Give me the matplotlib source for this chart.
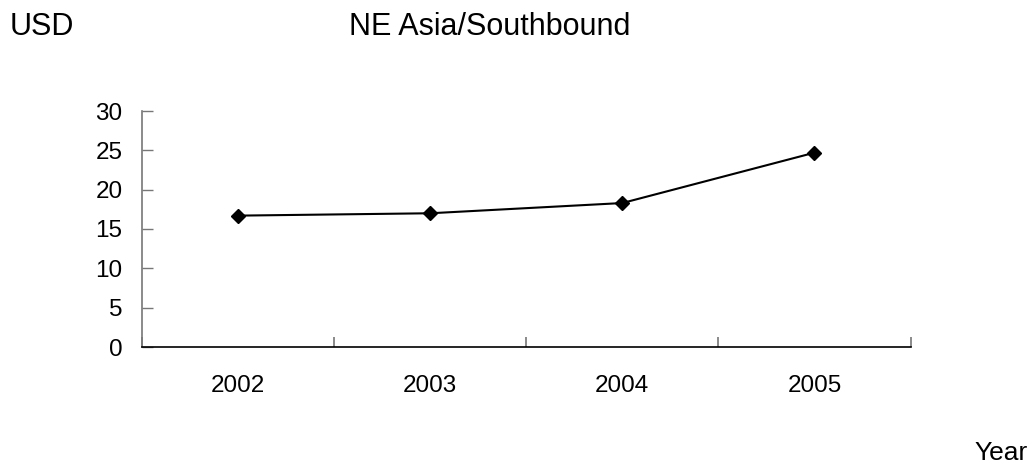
import matplotlib
matplotlib.use('Agg')
import matplotlib.pyplot as plt

# данные
years = ['2002', '2003', '2004', '2005']
usd = [16.7, 17.0, 18.3, 24.7]
yticks = [0, 5, 10, 15, 20, 25, 30]

plt.rcParams['font.family'] = ['Liberation Sans', 'DejaVu Sans']
fs = 17.5

fig = plt.figure(figsize=(10.35, 4.67), dpi=100)
ax = fig.add_axes([142/1035, 1 - 347/467, (910.5 - 142)/1035, (347 - 111)/467])

xs = [i + 0.5 for i in range(len(years))]
ax.plot(xs, usd, color='black', lw=1.5, marker='D', ms=7.5, mfc='black', mec='black')

ax.set_xlim(0, len(years))
ax.set_ylim(0, 30)
ax.set_xticks(range(len(years) + 1))
ax.set_xticklabels([])
ax.set_xticks(xs, minor=True)
ax.set_xticklabels(years, minor=True)
ax.set_yticks(yticks)
ax.set_yticklabels([str(v) for v in yticks])

ax.tick_params(axis='x', which='major', direction='in', length=7, width=1.2, color='#777777')
ax.tick_params(axis='x', which='minor', length=0, pad=20, labelsize=fs)
ax.tick_params(axis='y', direction='in', length=8, width=1, color='#777777', pad=14, labelsize=fs)

for s in ['top', 'right']:
    ax.spines[s].set_visible(False)
ax.spines['left'].set_color('#777777')
ax.spines['bottom'].set_color('black')
ax.spines['left'].set_linewidth(1.2)
ax.spines['bottom'].set_linewidth(1.2)

fig.text(10/1035, 1 - 35/467, 'USD', fontsize=22, ha='left', va='baseline')
fig.text(490/1035, 1 - 35/467, 'NE Asia/Southbound', fontsize=22, ha='center', va='baseline')
fig.text(1028/1035, 1 - 460/467, 'Year', fontsize=19, ha='right', va='baseline')

fig.savefig('out.png', dpi=100)
